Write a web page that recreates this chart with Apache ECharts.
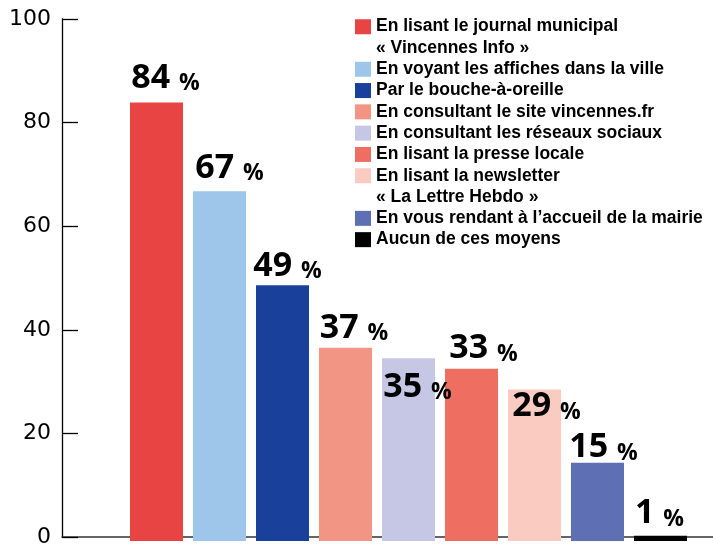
<!DOCTYPE html>
<html>
<head>
<meta charset="utf-8">
<script src="https://cdn.jsdelivr.net/npm/echarts@6/dist/echarts.min.js"></script>
<style>
html,body{margin:0;padding:0;background:#fff;}
#chart{width:713px;height:548px;}
</style>
</head>
<body>
<div id="chart"></div>
<script>
// ---- data ----
var categories = [
  "En lisant le journal municipal\n« Vincennes Info »",
  "En voyant les affiches dans la ville",
  "Par le bouche-à-oreille",
  "En consultant le site vincennes.fr",
  "En consultant les réseaux sociaux",
  "En lisant la presse locale",
  "En lisant la newsletter\n« La Lettre Hebdo »",
  "En vous rendant à l’accueil de la mairie",
  "Aucun de ces moyens"
];
var values = [84, 67, 49, 37, 35, 33, 29, 15, 1];
var yTicks = [0, 20, 40, 60, 80, 100];

// ---- styles ----
var colors = ["#e84444", "#9dc6ea", "#19409a", "#f39585", "#c6c6e5", "#ef6e62", "#f9cbc1", "#5f6fb4", "#000000"];
var labelOffsets = [[9,-7.5],[10,-6],[5,-2],[8.5,-3],[9,46],[12,-3],[12,34],[6,2],[-1,-5]];

var series = categories.map(function (name, i) {
  var d = categories.map(function (c, j) { return j === i ? values[i] : null; });
  return {
    name: name,
    type: 'bar',
    stack: 'all',
    xAxisIndex: 1,
    yAxisIndex: 1,
    barWidth: 53,
    data: d,
    itemStyle: { color: colors[i] },
    label: {
      show: true,
      position: 'top',
      distance: 0,
      offset: labelOffsets[i],
      formatter: function (p) { return '{n|' + p.value + ' }{p|%}'; },
      rich: {
        n: { fontFamily: 'Open Sans', fontWeight: 'bold', fontSize: 34, lineHeight: 34, color: '#000' },
        p: { fontFamily: 'Open Sans', fontWeight: 'bold', fontSize: 23, lineHeight: 26, color: '#000', verticalAlign: 'bottom' }
      }
    }
  };
});

// legend layout: groups of consecutive items; two-line items get a tall icon box
var LH = 21.3;
var legendTop = 16;
var legendTextStyle = { fontFamily: 'Liberation Sans', fontWeight: 'bold', fontSize: 17.5, lineHeight: LH, color: '#000' };
var tallIcon = 'path://M0,0H16V15H0ZM0,36.3H16V36.3H0Z';
var legends = [];
var groups = [];
categories.forEach(function (name) {
  var multi = name.indexOf('\n') >= 0;
  var last = groups[groups.length - 1];
  if (!last || last.multi !== multi || multi) groups.push({ multi: multi, names: [name] });
  else last.names.push(name);
});
var y = legendTop;
groups.forEach(function (g) {
  legends.push({
    orient: 'vertical',
    left: 355,
    top: y,
    padding: 0,
    itemWidth: 16,
    itemHeight: g.multi ? 36.3 : 15,
    itemGap: 0,
    icon: g.multi ? tallIcon : 'rect',
    selectedMode: false,
    data: g.names,
    textStyle: legendTextStyle
  });
  y += g.names.length * LH * (g.multi ? 2 : 1);
});

var chart = echarts.init(document.getElementById('chart'), null, { renderer: 'canvas' });
chart.setOption({
  animation: false,
  backgroundColor: '#fff',
  legend: legends,
  grid: [
    { left: 62, right: 0, top: 19, bottom: 7 },
    { left: 125, width: 567, top: 19, bottom: 7 }
  ],
  xAxis: [
    { type: 'value', gridIndex: 0, min: 0, max: 1,
      axisLine: { show: true, lineStyle: { color: '#333', width: 1.5 } },
      axisTick: { show: false }, axisLabel: { show: false }, splitLine: { show: false } },
    { type: 'category', gridIndex: 1, data: categories, show: false }
  ],
  yAxis: [
    { type: 'value', gridIndex: 0, min: yTicks[0], max: yTicks[yTicks.length - 1], interval: 20,
      axisLine: { show: true, lineStyle: { color: '#000', width: 1.3 } },
      axisTick: { show: true, inside: true, length: 16, lineStyle: { color: '#000', width: 1.3 } },
      axisLabel: { margin: 11, fontFamily: 'DejaVu Sans', fontSize: 22, color: '#000' },
      splitLine: { show: false } },
    { type: 'value', gridIndex: 1, min: 0, max: 100, show: false }
  ],
  series: series
});
</script>
</body>
</html>
